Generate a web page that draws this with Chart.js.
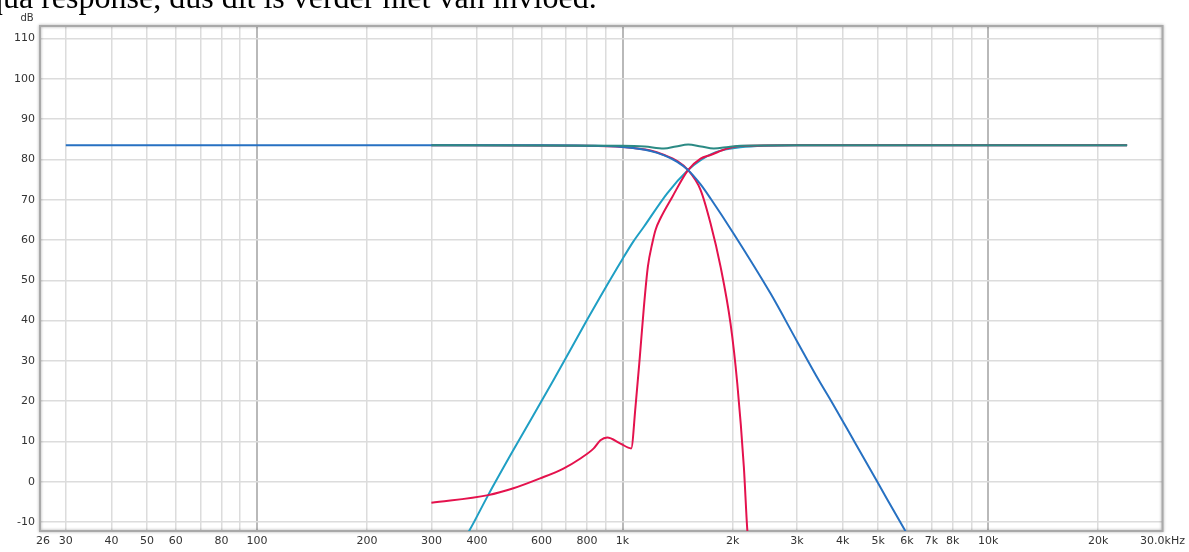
<!DOCTYPE html>
<html>
<head>
<meta charset="utf-8">
<script src="https://cdn.jsdelivr.net/npm/chart.js@4"></script>
<style>
  body { margin: 0; background: #fff; }
  #wrap { position: relative; width: 1189px; height: 552px; overflow: hidden; }
  #note {
    position: absolute; left: -13px; top: -19px; white-space: nowrap;
    font: 32px/32px "Liberation Serif", "Times New Roman", serif; color: #000;
  }
</style>
</head>
<body>
<div id="wrap">
  <canvas id="freqChart" width="1189" height="552"></canvas>
  <div id="note">qua response, dus dit is verder niet van invloed.</div>
</div>
<script>
// grid lines (Hz) and which of them get a label
const xGrid = [26, 30, 40, 50, 60, 70, 80, 90, 100, 200, 300, 400, 500, 600, 700, 800, 900,
  1000, 2000, 3000, 4000, 5000, 6000, 7000, 8000, 9000, 10000, 20000, 30000];
const xLabels = {26: "26", 30: "30", 40: "40", 50: "50", 60: "60", 80: "80", 100: "100",
  200: "200", 300: "300", 400: "400", 600: "600", 800: "800", 1000: "1k", 2000: "2k",
  3000: "3k", 4000: "4k", 5000: "5k", 6000: "6k", 7000: "7k", 8000: "8k", 10000: "10k",
  20000: "20k", 30000: "30.0kHz"};
const yTicks = [-10, 0, 10, 20, 30, 40, 50, 60, 70, 80, 90, 100, 110];

// sum response (teal)
const sumFreq = [300, 1000, 1150, 1297, 1400, 1512, 1640, 1777, 1950, 2102, 3000, 24000];
const sumDb   = [83.5, 83.4, 83.2, 82.7, 83.2, 83.7, 83.2, 82.7, 83.1, 83.4, 83.5, 83.5];

// low pass (blue)
const lowFreq = [30, 100, 300, 600, 800, 1000, 1193, 1300, 1411, 1509, 1635, 1741, 2016,
  2541, 3000, 3443, 3724, 4305, 4976, 5885, 6100];
const lowDb   = [83.5, 83.5, 83.5, 83.5, 83.4, 83.1, 82.1, 81.0, 79.4, 77.4, 73.8, 70.3, 61.5,
  46.7, 34.9, 25.2, 20, 10, 0, -11.6, -14];

// high pass (cyan)
const highFreq = [370, 381, 429, 500, 647, 800, 870, 1000, 1070, 1144, 1325, 1509, 1635, 1800, 2100, 3000, 24000];
const highDb   = [-14, -12.1, -3.3, 7.5, 25.2, 40.2, 46.0, 55.3, 59.6, 63.3, 71.6, 77.3, 79.8, 81.8, 83.0, 83.5, 83.5];

// measured woofer (red, falling)
const wooFreq = [300, 800, 1000, 1193, 1300, 1411, 1509, 1635, 1741, 1854, 1974, 2060, 2147, 2193, 2205];
const wooDb   = [83.5, 83.4, 83.1, 82.2, 81.1, 79.6, 77.4, 72.4, 64.1, 53.4, 39.3, 24.4, 3.7, -11.6, -14];

// measured tweeter (red, rising)
const tweFreq = [300, 429, 503, 595, 689, 767, 834, 870, 908, 987, 1056, 1085, 1115, 1144, 1173,
  1206, 1231, 1270, 1368, 1509, 1635, 1741, 1934, 2100, 3000, 24000];
const tweDb   = [-5.2, -3.3, -1.6, 0.85, 3.3, 5.8, 8.3, 10.3, 11.0, 9.5, 8.3, 18.6, 31.0, 43.4, 53.4,
  59.2, 62.5, 65.4, 70.7, 77.3, 80.2, 81.1, 82.7, 83.3, 83.5, 83.5];

const pts = (f, d) => f.map((v, i) => ({x: v, y: d[i]}));

function line(label, f, d, color) {
  return {
    label, data: pts(f, d), borderColor: color, backgroundColor: color,
    borderWidth: 2, pointRadius: 0, cubicInterpolationMode: "monotone", fill: false
  };
}

// frame round the plot + "dB" caption
const framePlugin = {
  id: "frame",
  beforeDatasetsDraw(chart) {
    const {ctx, chartArea: a} = chart;
    ctx.save();
    ctx.shadowColor = "rgba(0,0,0,0.35)";
    ctx.shadowBlur = 3;
    ctx.strokeStyle = "#a9a9a9";
    ctx.lineWidth = 2;
    ctx.strokeRect(a.left, a.top, a.right - a.left, a.bottom - a.top);
    ctx.restore();
  },
  afterDraw(chart) {
    const {ctx, chartArea: a} = chart;
    ctx.save();
    ctx.fillStyle = "#333";
    ctx.font = "10px 'DejaVu Sans'";
    ctx.textAlign = "center";
    ctx.textBaseline = "middle";
    ctx.fillText("dB", a.left - 13, a.top - 8);
    ctx.restore();
  }
};

const decades = [100, 1000, 10000];

new Chart(document.getElementById("freqChart"), {
  type: "line",
  data: {
    datasets: [
      line("Som", sumFreq, sumDb, "#2b8a84"),
      line("Laag", lowFreq, lowDb, "#2771c2"),
      line("Woofer", wooFreq, wooDb, "#e4124d"),
      line("Tweeter", tweFreq, tweDb, "#e4124d"),
      line("Hoog", highFreq, highDb, "#1f9fc4")
    ]
  },
  options: {
    responsive: false,
    animation: false,
    layout: { padding: { top: 26, right: 26, left: 0, bottom: 0 } },
    plugins: { legend: { display: false }, tooltip: { enabled: false } },
    scales: {
      x: {
        type: "logarithmic",
        min: 25.5,
        max: 30000,
        afterBuildTicks: s => { s.ticks = xGrid.map(v => ({value: v})); },
        afterFit: s => { s.height = 21; },
        border: { display: false },
        grid: {
          drawTicks: false,
          color: c => {
            const v = c.tick && c.tick.value;
            if (v === 26 || v === 30000) return "rgba(0,0,0,0)";
            return decades.includes(v) ? "#b9b9b9" : "#dcdcdc";
          },
          lineWidth: c => (c.tick && decades.includes(c.tick.value)) ? 2 : 1.5
        },
        ticks: {
          autoSkip: false, maxRotation: 0, padding: 4, color: "#333",
          font: { family: "DejaVu Sans", size: 11 },
          callback: v => xLabels[v] || ""
        }
      },
      y: {
        min: -12.2,
        max: 113.1,
        afterBuildTicks: s => { s.ticks = yTicks.map(v => ({value: v})); },
        afterFit: s => { s.width = 40; },
        border: { display: false },
        grid: { drawTicks: false, color: "#dcdcdc", lineWidth: 1.5 },
        ticks: {
          padding: 5, color: "#333",
          font: { family: "DejaVu Sans", size: 11 }
        }
      }
    }
  },
  plugins: [framePlugin]
});
</script>
</body>
</html>
